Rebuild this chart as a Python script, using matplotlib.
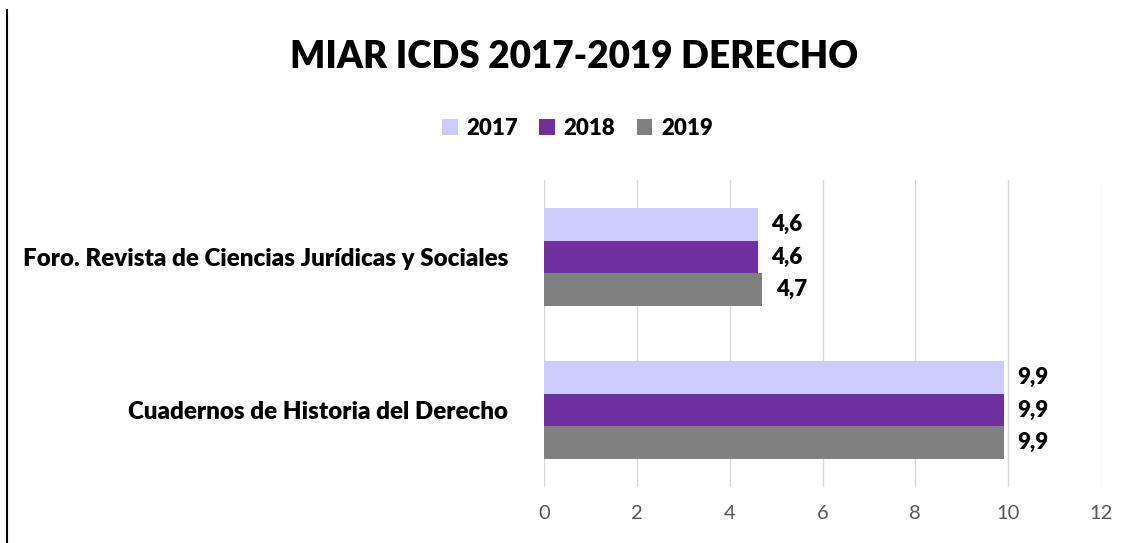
import matplotlib
matplotlib.use("Agg")
import matplotlib.pyplot as plt
from matplotlib.lines import Line2D
from matplotlib.patches import Patch
import numpy as np

plt.rcParams["font.family"] = ["Lato", "DejaVu Sans"]

journals = ["Cuadernos de Historia del Derecho",
            "Foro. Revista de Ciencias Jurídicas y Sociales"]
years = ["2017", "2018", "2019"]
values = {
    "2017": [9.9, 4.6],
    "2018": [9.9, 4.6],
    "2019": [9.9, 4.7],
}
colors = {"2017": "#ccccff", "2018": "#7030a0", "2019": "#808080"}
xticks = [0, 2, 4, 6, 8, 10, 12]

fig = plt.figure(figsize=(11.31, 5.43), dpi=100)
ax = fig.add_axes([0.481, 0.104, 0.4925, 0.5636])

y = np.arange(len(journals))
h = 0.212
# Excel draws the first series on top within each category
offsets = {"2017": h, "2018": 0.0, "2019": -h}
for yr in years:
    bars = ax.barh(y + offsets[yr], values[yr], height=h, color=colors[yr],
                   zorder=3, label=yr)
    for b, v in zip(bars, values[yr]):
        ax.text(b.get_width() + 0.3, b.get_y() + b.get_height() / 2,
                f"{v:.1f}".replace(".", ","), ha="left", va="center",
                fontsize=16, fontweight="heavy", color="black")

ax.set_xlim(0, 12)
ax.set_ylim(-0.5, 1.5)
ax.set_xticks(xticks)
ax.set_xticklabels([str(t) for t in xticks], fontsize=14.5, color="#595959")
ax.set_yticks(y)
ax.set_yticklabels(journals, fontsize=17.4, fontweight="heavy", color="black")
ax.tick_params(axis="both", length=0)
ax.tick_params(axis="x", pad=13)
ax.tick_params(axis="y", pad=26)
ax.grid(axis="x", color="#d9d9d9", lw=1, zorder=0)
for s in ax.spines.values():
    s.set_visible(False)

fig.text(0.5075, 0.895, "MIAR ICDS 2017-2019 DERECHO", ha="center", va="center",
         fontsize=26.5, fontweight="heavy", color="black")

handles = [Patch(facecolor=colors[yr], label=yr) for yr in years]
fig.legend(handles=handles, loc="center", bbox_to_anchor=(0.5105, 0.764), ncol=3,
           frameon=False, prop={"size": 16, "weight": "heavy"},
           handlelength=0.7, handleheight=0.7, handletextpad=0.4, columnspacing=0.95)

fig.add_artist(Line2D([7 / 1131, 7 / 1131], [0, 1 - 10 / 543], color="black", lw=1.5))

fig.savefig("out.png", dpi=100, facecolor="white")
